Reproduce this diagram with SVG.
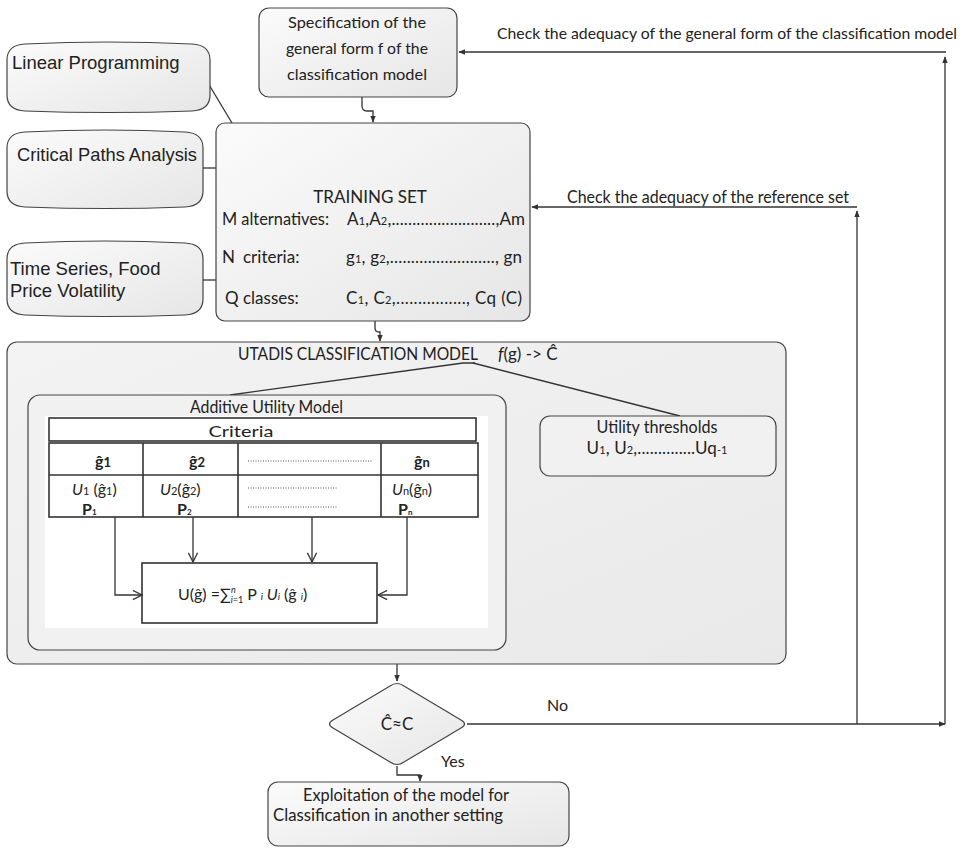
<svg xmlns="http://www.w3.org/2000/svg" width="976" height="848" viewBox="0 0 976 848">
<defs>
<linearGradient id="g" x1="0" y1="0" x2="1" y2="1">
<stop offset="0" stop-color="#fbfbfb"/>
<stop offset="1" stop-color="#e6e6e6"/>
</linearGradient>
<linearGradient id="g2" x1="0" y1="0" x2="1" y2="1">
<stop offset="0" stop-color="#f3f3f3"/>
<stop offset="1" stop-color="#e9e9e9"/>
</linearGradient>
<marker id="arr" viewBox="0 0 10 10" refX="9" refY="5" markerWidth="7" markerHeight="7" markerUnits="userSpaceOnUse" orient="auto">
<path d="M0,1 L10,5 L0,9 Z" fill="#333"/>
</marker>
<marker id="open" viewBox="0 0 12 12" refX="11" refY="6" markerWidth="11" markerHeight="11" markerUnits="userSpaceOnUse" orient="auto">
<path d="M1,1 L11,6 L1,11" fill="none" stroke="#333" stroke-width="1.4"/>
</marker>
</defs>
<style>
.t{font-family:Lato,"Open Sans","DejaVu Sans",sans-serif;fill:#222;font-size:16px}
.b{font-size:17px}
.a{font-family:"Liberation Sans",Arial,sans-serif;fill:#222;font-size:18.5px}
.box{fill:url(#g);stroke:#444;stroke-width:1.2}
.ln{fill:none;stroke:#333;stroke-width:1.3}
.tb{fill:none;stroke:#333;stroke-width:1.6}
.sub{font-size:11px}
.c{text-anchor:middle}
</style>
<rect width="976" height="848" fill="#fff"/>

<g id="connectors">
<path class="ln" d="M362,97 V106 Q362,111 367,111 H373 V122" marker-end="url(#arr)"/>
<path class="ln" d="M375,321 V328 Q375,332 379,332 H380 V341" marker-end="url(#arr)"/>
<line class="ln" x1="208" y1="83" x2="232" y2="123"/>
<line class="ln" x1="203" y1="168" x2="216" y2="168"/>
<line class="ln" x1="203" y1="280" x2="216" y2="280"/>
<path class="ln" d="M397,664 V681" marker-end="url(#arr)"/>
<path class="ln" d="M467,724 H945" marker-end="url(#arr)"/>
<path class="ln" d="M945,724 V57" marker-end="url(#arr)"/>
<path class="ln" d="M946,52 H459" marker-end="url(#arr)"/>
<path class="ln" d="M857,724 V211" marker-end="url(#arr)"/>
<path class="ln" d="M857,207 H532" marker-end="url(#arr)"/>
<path class="ln" d="M397,766 V775 H420 V781" marker-end="url(#arr)"/>
</g>

<g id="spec">
<rect class="box" x="259" y="8" width="198" height="89" rx="10"/>
<text class="t c" x="357" y="28" textLength="138" lengthAdjust="spacingAndGlyphs" font-size="17">Specification of the</text>
<text class="t c" x="357" y="54" textLength="142" lengthAdjust="spacingAndGlyphs" font-size="17">general form f of the</text>
<text class="t c" x="357" y="80" textLength="140" lengthAdjust="spacingAndGlyphs" font-size="17">classification model</text>
</g>
<text class="t" x="497" y="39" font-size="16" textLength="460" lengthAdjust="spacingAndGlyphs">Check the adequacy of the general form of the classification model</text>

<g id="lp">
<path class="box" d="M7,60 Q7,45 25,44 Q108,40 192,44 Q210,45 210,60 V95 Q210,110 192,111 Q108,114 25,111 Q7,110 7,95 Z"/>
<text class="a" x="12" y="69">Linear Programming</text>
</g>
<g id="cpa">
<path class="box" d="M7,148 Q7,133 25,132 Q105,128 185,132 Q203,133 203,148 V191 Q203,206 185,207 Q105,210 25,207 Q7,206 7,191 Z"/>
<text class="a" x="17" y="161" textLength="180" lengthAdjust="spacingAndGlyphs">Critical Paths Analysis</text>
</g>
<g id="ts">
<path class="box" d="M7,259 Q7,244 25,243 Q105,239 185,243 Q203,244 203,259 V299 Q203,314 185,315 Q105,318 25,315 Q7,314 7,299 Z"/>
<text class="a" x="10" y="275">Time Series, Food</text>
<text class="a" x="10" y="297">Price Volatility</text>
</g>

<g id="training">
<rect class="box" x="216" y="123" width="314" height="198" rx="9"/>
<text class="t b c" x="370" y="203">TRAINING SET</text>
<text class="t b" x="222" y="225" textLength="107" lengthAdjust="spacingAndGlyphs">M alternatives:</text>
<text class="t b" x="347" y="225" textLength="178" lengthAdjust="spacing">A<tspan class="sub">1</tspan>,A<tspan class="sub">2</tspan>,.........................,Am</text>
<text class="t b" x="222" y="263">N</text>
<text class="t b" x="243" y="263">criteria:</text>
<text class="t b" x="346" y="263" textLength="176" lengthAdjust="spacing">g<tspan class="sub">1</tspan>,  g<tspan class="sub">2</tspan>,.........................,  gn</text>
<text class="t b" x="225" y="304">Q classes:</text>
<text class="t b" x="346" y="304" textLength="176" lengthAdjust="spacing">C<tspan class="sub">1</tspan>,   C<tspan class="sub">2</tspan>,................, Cq (C)</text>
</g>
<text class="t b" x="567" y="203" textLength="282" lengthAdjust="spacingAndGlyphs">Check the adequacy of the reference set</text>

<g id="utadis">
<rect x="7" y="342" width="779" height="322" rx="10" fill="url(#g2)" stroke="#444" stroke-width="1.2"/>
<text class="t b" x="238" y="360" textLength="240" lengthAdjust="spacingAndGlyphs">UTADIS CLASSIFICATION MODEL</text>
<text class="t b" x="498" y="360"><tspan font-style="italic">f</tspan>(g) -&gt; Ĉ</text>
<path class="ln" d="M475,363 H463 L230,395"/>
<path class="ln" d="M473,363 L680,416"/>
</g>

<g id="additive">
<rect x="28" y="395" width="478" height="255" rx="12" fill="#f1f1f1" stroke="#444" stroke-width="1.2"/>
<rect x="45" y="416" width="443" height="212" fill="#fff"/>
<text class="t b" x="190" y="413" textLength="153" lengthAdjust="spacingAndGlyphs">Additive Utility Model</text>
<rect class="tb" x="49" y="418" width="427" height="23"/>
<text class="t c" x="241" y="437" font-size="20" textLength="65" lengthAdjust="spacingAndGlyphs">Criteria</text>
<rect class="tb" x="49" y="443" width="429" height="74"/>
<line class="tb" x1="49" y1="475" x2="478" y2="475"/>
<line class="tb" x1="143" y1="443" x2="143" y2="517"/>
<line class="tb" x1="238" y1="443" x2="238" y2="517"/>
<line class="tb" x1="381" y1="443" x2="381" y2="517"/>
<text class="t c" x="103" y="467" font-size="19" font-weight="bold">ĝ<tspan font-size="13">1</tspan></text>
<text class="t c" x="197" y="467" font-size="19" font-weight="bold">ĝ<tspan font-size="13">2</tspan></text>
<line x1="248" y1="461" x2="373" y2="461" stroke="#555" stroke-width="1" stroke-dasharray="1,1.5"/>
<text class="t c" x="422" y="467" font-size="19" font-weight="bold">ĝ<tspan font-size="13">n</tspan></text>
<text class="t" x="72" y="495" font-size="15"><tspan font-style="italic">U</tspan><tspan font-size="11">1</tspan> (ĝ<tspan font-size="11">1</tspan>)</text>
<text class="t" x="82" y="515" font-size="11" font-weight="bold">P<tspan font-size="8">1</tspan></text>
<text class="t" x="160" y="495" font-size="15"><tspan font-style="italic">U</tspan><tspan font-size="11">2</tspan>(ĝ<tspan font-size="11">2</tspan>)</text>
<text class="t" x="177" y="515" font-size="11" font-weight="bold">P<tspan font-size="8">2</tspan></text>
<line x1="248" y1="488" x2="337" y2="488" stroke="#555" stroke-width="1" stroke-dasharray="1,1.5"/>
<line x1="248" y1="507" x2="337" y2="507" stroke="#555" stroke-width="1" stroke-dasharray="1,1.5"/>
<text class="t" x="392" y="495" font-size="15"><tspan font-style="italic">U</tspan><tspan font-size="11">n</tspan>(ĝ<tspan font-size="11">n</tspan>)</text>
<text class="t" x="398" y="515" font-size="11" font-weight="bold">P<tspan font-size="8">n</tspan></text>
<path class="ln" d="M115,517 V595 H142" marker-end="url(#open)"/>
<path class="ln" d="M193,517 V562" marker-end="url(#open)"/>
<path class="ln" d="M312,517 V562" marker-end="url(#open)"/>
<path class="ln" d="M407,517 V595 H378" marker-end="url(#open)"/>
<rect class="tb" x="142" y="563" width="235" height="60" fill="#fff"/>
<text class="t" x="178" y="600" font-size="16">U(ĝ) =∑<tspan font-size="9" dy="-7" font-style="italic">n</tspan><tspan font-size="9" dx="-5" dy="10" font-style="italic">i</tspan><tspan font-size="9" dy="0">=1</tspan><tspan dy="-3"> P </tspan><tspan font-size="10" font-style="italic">i</tspan><tspan font-style="italic"> U</tspan><tspan font-size="10" font-style="italic">i</tspan> (ĝ <tspan font-size="10" font-style="italic">i</tspan>)</text>
</g>

<g id="thresholds">
<rect x="540" y="416" width="236" height="60" rx="10" fill="#f1f1f1" stroke="#444" stroke-width="1.2"/>
<text class="t b c" x="657" y="433" textLength="121" lengthAdjust="spacingAndGlyphs">Utility thresholds</text>
<text class="t b c" x="657" y="454" textLength="141" lengthAdjust="spacing">U<tspan class="sub">1</tspan>, U<tspan class="sub">2</tspan>,..............Uq<tspan class="sub">-1</tspan></text>
</g>

<g id="decision">
<path class="box" d="M390,686 Q397,681 404,686 L461,720 Q468,724 461,728 L404,762 Q397,767 390,762 L333,728 Q326,724 333,720 Z"/>
<text class="t b c" x="397" y="730">Ĉ≈C</text>
</g>
<text class="t" x="547" y="711" font-size="15">No</text>
<text class="t" x="441" y="767" font-size="15">Yes</text>

<g id="exploit">
<rect class="box" x="268" y="782" width="301" height="64" rx="10"/>
<text class="t b" x="303" y="801" textLength="206" lengthAdjust="spacingAndGlyphs">Exploitation of the model for</text>
<text class="t b" x="273" y="821" textLength="230" lengthAdjust="spacingAndGlyphs">Classification  in another setting</text>
</g>
</svg>
